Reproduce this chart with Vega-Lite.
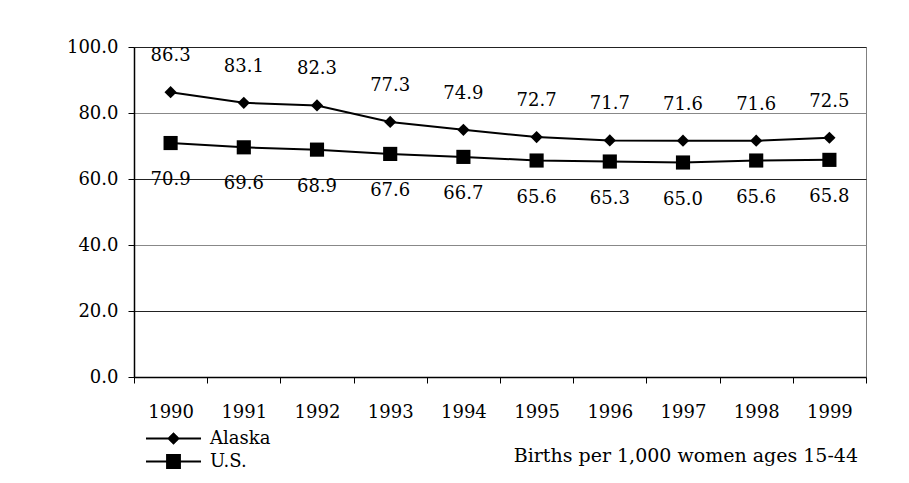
{
  "$schema": "https://vega.github.io/schema/vega-lite/v6.json",
  "width": 732,
  "height": 330,
  "autosize": {"type": "none"},
  "padding": {"left": 134, "top": 47, "right": 43, "bottom": 106},
  "background": "white",
  "config": {
    "view": {"stroke": "#808080", "strokeWidth": 1},
    "font": "DejaVu Serif",
    "legend": {"padding": 0}
  },
  "data": {
    "values": [
      {"year": "1990", "series": "Alaska", "value": 86.3},
      {"year": "1991", "series": "Alaska", "value": 83.1},
      {"year": "1992", "series": "Alaska", "value": 82.3},
      {"year": "1993", "series": "Alaska", "value": 77.3},
      {"year": "1994", "series": "Alaska", "value": 74.9},
      {"year": "1995", "series": "Alaska", "value": 72.7},
      {"year": "1996", "series": "Alaska", "value": 71.7},
      {"year": "1997", "series": "Alaska", "value": 71.6},
      {"year": "1998", "series": "Alaska", "value": 71.6},
      {"year": "1999", "series": "Alaska", "value": 72.5},
      {"year": "1990", "series": "U.S.", "value": 70.9},
      {"year": "1991", "series": "U.S.", "value": 69.6},
      {"year": "1992", "series": "U.S.", "value": 68.9},
      {"year": "1993", "series": "U.S.", "value": 67.6},
      {"year": "1994", "series": "U.S.", "value": 66.7},
      {"year": "1995", "series": "U.S.", "value": 65.6},
      {"year": "1996", "series": "U.S.", "value": 65.3},
      {"year": "1997", "series": "U.S.", "value": 65.0},
      {"year": "1998", "series": "U.S.", "value": 65.6},
      {"year": "1999", "series": "U.S.", "value": 65.8}
    ]
  },
  "title": {
    "text": "Births per 1,000 women ages 15-44",
    "orient": "bottom",
    "anchor": "end",
    "frame": "group",
    "font": "DejaVu Serif",
    "fontSize": 19,
    "fontWeight": "normal",
    "color": "black",
    "offset": -26,
    "dx": -8
  },
  "encoding": {
    "x": {
      "field": "year",
      "type": "ordinal",
      "bandPosition": 0.5,
      "scale": {"type": "band", "paddingInner": 0, "paddingOuter": 0},
      "axis": {
        "title": null,
        "tickBand": "extent",
        "labelAngle": 0,
        "domainColor": "black",
        "domainWidth": 1.5,
        "tickColor": "black",
        "tickSize": 6,
        "labelFont": "DejaVu Serif",
        "labelFontSize": 18,
        "labelColor": "black",
        "labelPadding": 20,
        "grid": false
      }
    },
    "y": {
      "field": "value",
      "type": "quantitative",
      "scale": {"domain": [0, 100]},
      "axis": {
        "title": null,
        "values": [0, 20, 40, 60, 80, 100],
        "format": ".1f",
        "domainColor": "black",
        "domainWidth": 1.5,
        "tickColor": "black",
        "tickSize": 6,
        "labelFont": "DejaVu Serif",
        "labelFontSize": 18,
        "labelColor": "black",
        "labelPadding": 10,
        "grid": true,
        "gridOpacity": 1,
        "gridColor": {
          "condition": {"test": "datum.value == 20 || datum.value == 60 || datum.value == 100", "value": "#222222"},
          "value": "#888888"
        }
      }
    }
  },
  "layer": [
    {
      "mark": {"type": "line", "color": "black", "strokeWidth": 2},
      "encoding": {"detail": {"field": "series"}}
    },
    {
      "transform": [{"filter": "datum.series == 'Alaska'"}],
      "mark": {"type": "point", "shape": "diamond", "size": 150, "filled": true, "color": "black", "opacity": 1}
    },
    {
      "transform": [{"filter": "datum.series == 'U.S.'"}],
      "mark": {"type": "point", "shape": "square", "size": 200, "filled": true, "color": "black", "opacity": 1}
    },
    {
      "transform": [{"filter": "datum.series == 'Alaska'"}],
      "mark": {"type": "text", "dy": -36, "font": "DejaVu Serif", "fontSize": 18, "color": "black"},
      "encoding": {"text": {"field": "value", "type": "quantitative", "format": ".1f"}}
    },
    {
      "transform": [{"filter": "datum.series == 'U.S.'"}],
      "mark": {"type": "text", "dy": 37, "font": "DejaVu Serif", "fontSize": 18, "color": "black"},
      "encoding": {"text": {"field": "value", "type": "quantitative", "format": ".1f"}}
    },
    {
      "transform": [{"filter": "datum.series == 'none'"}],
      "mark": {"type": "point", "filled": true, "color": "black"},
      "encoding": {
        "shape": {
          "field": "series",
          "type": "nominal",
          "scale": {
            "domain": ["Alaska", "U.S."],
            "range": [
              "M-1,-0.036H1V0.036H-1ZM0,-0.23L0.23,0L0,0.23L-0.23,0Z",
              "M-1,-0.036H1V0.036H-1ZM-0.27,-0.27H0.27V0.27H-0.27Z"
            ]
          },
          "legend": {
            "title": null,
            "orient": "none",
            "legendX": 11,
            "legendY": 380,
            "symbolSize": 3025,
            "symbolFillColor": "black",
            "symbolOpacity": 1,
            "clipHeight": 23,
            "labelFont": "DejaVu Serif",
            "labelFontSize": 18,
            "labelColor": "black",
            "labelOffset": 8,
            "rowPadding": 0
          }
        }
      }
    }
  ]
}
